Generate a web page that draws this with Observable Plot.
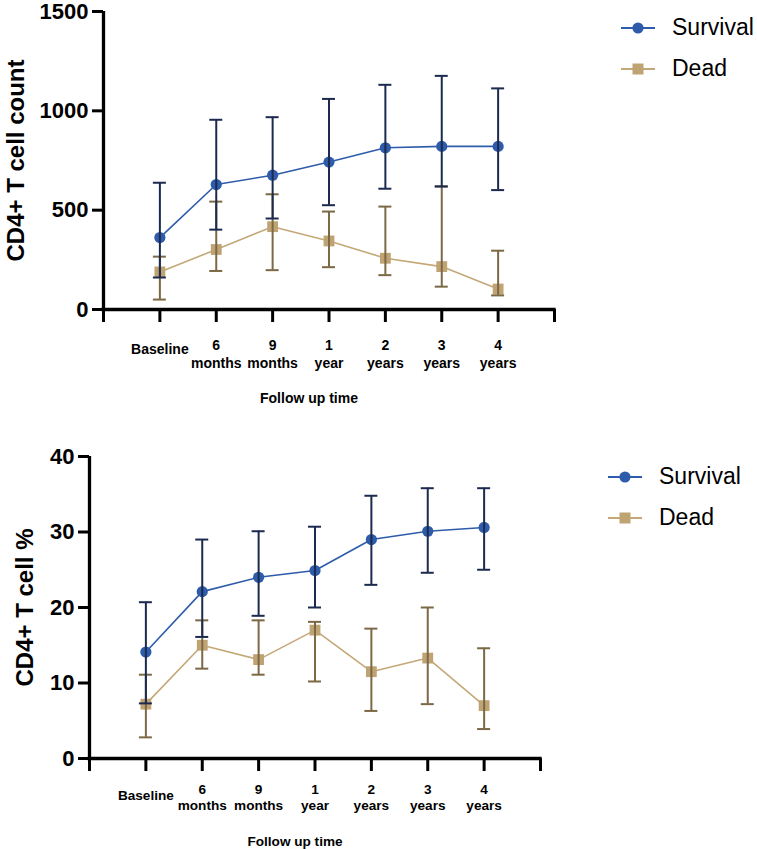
<!DOCTYPE html>
<html>
<head>
<meta charset="utf-8">
<script src="https://cdn.jsdelivr.net/npm/d3@7"></script>
<script src="https://cdn.jsdelivr.net/npm/@observablehq/plot@0.6"></script>
<style>
  html, body { margin: 0; padding: 0; background: #fff; }
  #wrap { position: relative; width: 757px; height: 849px; overflow: hidden; font-family: "Liberation Sans", Arial, sans-serif; }
  .panel { position: absolute; left: 0; }
  .panel svg { overflow: visible; }
  .legend { position: absolute; font-family: "Liberation Sans", Arial, sans-serif; font-size: 23px; color: #000; }
  .legend .item { display: flex; align-items: center; height: 41px; }
  .legend svg { margin-right: 17px; }
</style>
</head>
<body>
<div id="wrap"></div>
<script>
// ---- data ----
const categories = ["Baseline", "6\nmonths", "9\nmonths", "1\nyear", "2\nyears", "3\nyears", "4\nyears"];
const seriesNames = ["Survival", "Dead"];

// Panel 1: CD4+ T cell count
const countSurvival     = [362, 629, 676, 742, 814, 821, 821];
const countSurvivalHigh = [638, 955, 968, 1060, 1131, 1176, 1113];
const countSurvivalLow  = [161, 402, 458, 525, 608, 619, 601];
const countDead         = [189, 302, 417, 345, 258, 216, 103];
const countDeadHigh     = [266, 543, 580, 493, 518, 620, 296];
const countDeadLow      = [50, 194, 198, 213, 173, 115, 71];
const countTicks = [0, 500, 1000, 1500];

// Panel 2: CD4+ T cell %
const pctSurvival     = [14.1, 22.1, 24.0, 24.9, 29.0, 30.1, 30.6];
const pctSurvivalHigh = [20.7, 29.0, 30.1, 30.7, 34.8, 35.8, 35.8];
const pctSurvivalLow  = [7.3, 16.1, 18.9, 20.0, 23.0, 24.6, 25.0];
const pctDead         = [7.2, 15.0, 13.1, 17.0, 11.5, 13.3, 7.0];
const pctDeadHigh     = [11.1, 18.3, 18.3, 18.1, 17.2, 20.0, 14.6];
const pctDeadLow      = [2.8, 11.9, 11.1, 10.2, 6.3, 7.2, 3.9];
const pctTicks = [0, 10, 20, 30, 40];

const colors = {
  Survival: {line: "#2e5caa", fill: "#2e5caa", err: "#1b2a4e"},
  Dead:     {line: "#c4a878", fill: "#bfa373", err: "#7b6845"}
};

function rows(mean, low, high, name) {
  return mean.map((v, i) => ({x: i + 1, v, lo: low[i], hi: high[i], s: name}));
}

function panel(opts) {
  const surv = rows(opts.surv, opts.survLo, opts.survHi, "Survival");
  const dead = rows(opts.dead, opts.deadLo, opts.deadHi, "Dead");
  const catRows = categories.map((c, i) => ({x: i + 1, label: c}));
  const font = "Liberation Sans, Arial, sans-serif";
  const errMarks = (data, c) => [
    Plot.ruleX(data, {x: "x", y1: "lo", y2: "hi", stroke: c, strokeWidth: 2}),
    Plot.ruleY(data, {x1: "x", x2: "x", y: "hi", stroke: c, strokeWidth: 2, insetLeft: -6.5, insetRight: -6.5}),
    Plot.ruleY(data, {x1: "x", x2: "x", y: "lo", stroke: c, strokeWidth: 2, insetLeft: -6.5, insetRight: -6.5})
  ];
  return Plot.plot({
    width: 757,
    height: opts.height,
    marginTop: opts.mt,
    marginBottom: opts.mb,
    marginLeft: opts.ml,
    marginRight: opts.mr,
    style: {fontFamily: font, background: "white", overflow: "visible"},
    x: {domain: [0, 8], axis: null},
    y: {domain: opts.ydomain, axis: null},
    marks: [
      // y axis
      Plot.axisY({ticks: opts.yticks, tickFormat: d => String(d), tickSize: 11, tickPadding: 4, strokeWidth: 3,
                  fontSize: 22, fontWeight: "bold", fill: "#000", stroke: "#000", label: null}),
      Plot.text([opts.ylabel], {frameAnchor: "left", textAnchor: "middle", text: d => d, rotate: -90,
                  dx: opts.ylabelDx, fontSize: 24, fontWeight: "bold", fill: "#000"}),
      // x axis ticks
      Plot.axisX({ticks: d3.range(0, 9), tickSize: 13, strokeWidth: 3, tickFormat: () => "",
                  stroke: "#000", label: null}),
      Plot.ruleX([0], {stroke: "#000", strokeWidth: 3.3, y1: opts.ydomain[0], y2: opts.ydomain[1]}),
      Plot.ruleY([opts.ydomain[0]], {stroke: "#000", strokeWidth: 3.3, x1: 0, x2: 8, insetLeft: -1.6, insetRight: -1.6}),
      // x tick labels
      Plot.text(catRows.filter(d => d.x > 1), {x: "x", text: "label", frameAnchor: "bottom",
                  lineAnchor: "top", lineHeight: opts.lh, dy: opts.labDy,
                  fontSize: opts.xfs, fontWeight: "bold", fill: "#000"}),
      Plot.text(catRows.filter(d => d.x === 1), {x: "x", text: "label", frameAnchor: "bottom",
                  lineAnchor: "top", dy: opts.baseDy,
                  fontSize: opts.xfs, fontWeight: "bold", fill: "#000"}),
      Plot.text(["Follow up time"], {frameAnchor: "bottom", text: d => d, lineAnchor: "top",
                  dy: opts.titleDy, dx: -20, fontSize: opts.xfs, fontWeight: "bold", fill: "#000"}),
      // series lines
      Plot.line(surv, {x: "x", y: "v", stroke: colors.Survival.line, strokeWidth: 1.6}),
      Plot.line(dead, {x: "x", y: "v", stroke: colors.Dead.line, strokeWidth: 1.6}),
      Plot.dot(surv, {x: "x", y: "v", r: 5.6, fill: colors.Survival.fill, symbol: "circle"}),
      Plot.dot(dead, {x: "x", y: "v", r: 6.1, fill: colors.Dead.fill, symbol: "square"}),
      ...errMarks(dead, colors.Dead.err),
      ...errMarks(surv, colors.Survival.err)
    ]
  });
}

function legend(left, top) {
  const div = document.createElement("div");
  div.className = "legend";
  div.style.left = left + "px";
  div.style.top = top + "px";
  seriesNames.forEach(name => {
    const c = colors[name];
    const item = document.createElement("div");
    item.className = "item";
    const sym = name === "Survival"
      ? `<circle cx="17" cy="10" r="5.6" fill="${c.fill}"/>`
      : `<rect x="11.5" y="4.5" width="11" height="11" fill="${c.fill}"/>`;
    item.innerHTML = `<svg width="34" height="20"><line x1="0" x2="34" y1="10" y2="10" stroke="${c.line}" stroke-width="2"/>${sym}</svg><span>${name}</span>`;
    div.appendChild(item);
  });
  return div;
}

const wrap = document.getElementById("wrap");

const p1 = panel({
  height: 420, mt: 11, mb: 111, ml: 103, mr: 203,
  ydomain: [0, 1500], yticks: countTicks, ylabel: "CD4+ T cell count", ylabelDx: -87,
  surv: countSurvival, survLo: countSurvivalLow, survHi: countSurvivalHigh,
  dead: countDead, deadLo: countDeadLow, deadHi: countDeadHigh,
  xfs: 14, lh: 1.31, labDy: 27, baseDy: 35, titleDy: 84
});
const d1 = document.createElement("div");
d1.className = "panel"; d1.style.top = "0px";
d1.appendChild(p1);
wrap.appendChild(d1);

const p2 = panel({
  height: 429, mt: 36, mb: 91, ml: 89, mr: 217,
  ydomain: [0, 40], yticks: pctTicks, ylabel: "CD4+ T cell %", ylabelDx: -64,
  surv: pctSurvival, survLo: pctSurvivalLow, survHi: pctSurvivalHigh,
  dead: pctDead, deadLo: pctDeadLow, deadHi: pctDeadHigh,
  xfs: 13.6, lh: 1.2, labDy: 24, baseDy: 32, titleDy: 78
});
const d2 = document.createElement("div");
d2.className = "panel"; d2.style.top = "420px";
d2.appendChild(p2);
wrap.appendChild(d2);

wrap.appendChild(legend(621, 7));
wrap.appendChild(legend(608, 456));
</script>
</body>
</html>
